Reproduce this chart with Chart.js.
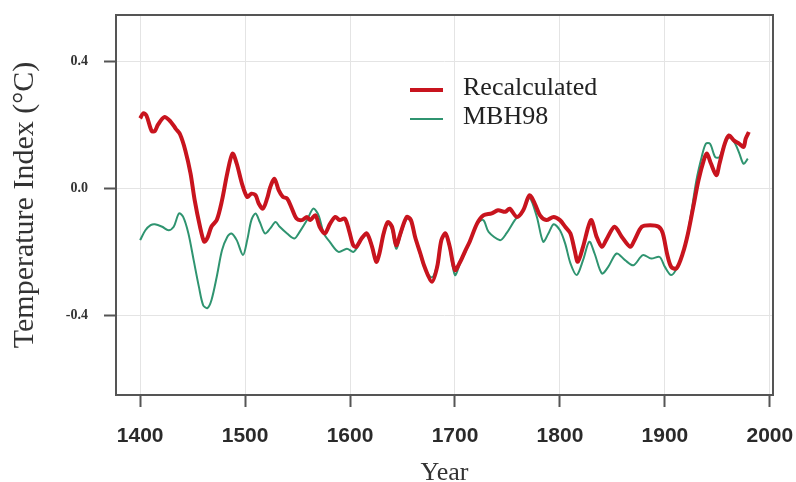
<!DOCTYPE html>
<html>
<head>
<meta charset="utf-8">
<title>Temperature Index</title>
<script src="https://cdn.jsdelivr.net/npm/chart.js@4.4.1/dist/chart.umd.min.js"></script>
<style>
  html, body { margin: 0; padding: 0; background: #fff; }
  #wrap { width: 796px; height: 482px; }
</style>
</head>
<body>
<div id="wrap"><canvas id="tempChart" width="796" height="482"></canvas></div>
<script>
// --- data ---
const xTicks = [1400, 1500, 1600, 1700, 1800, 1900, 2000];
const yTicks = [-0.4, 0.0, 0.4];

const recalcYears = [1400,1403,1406,1411,1414,1417,1423,1429,1434,1438,1443,1448,1452,1457,1461,1464,1468,1473,1478,1483,
  1488,1492,1497,1502,1506,1510,1513,1517,1521,1524,1528,1532,1536,1540,1544,1549,1554,1559,1562,1567,
  1571,1576,1581,1586,1590,1595,1599,1603,1606,1611,1616,1621,1625,1628,1632,1636,1640,1644,1648,1654,
  1658,1662,1667,1671,1678,1683,1687,1691,1695,1700,1705,1710,1714,1721,1727,1735,1741,1748,1752,1759,
  1765,1771,1776,1781,1787,1794,1800,1805,1810,1814,1817,1822,1827,1830,1835,1840,1844,1852,1859,1867,
  1871,1878,1886,1894,1898,1902,1906,1911,1917,1922,1927,1932,1937,1940,1944,1949,1952,1957,1961,1966,
  1971,1975,1977,1980];
const recalcValues = [0.22,0.236,0.229,0.18,0.18,0.20,0.224,0.21,0.187,0.17,0.12,0.047,-0.038,-0.12,-0.168,-0.157,-0.12,-0.10,-0.038,0.047,
  0.109,0.078,0.015,-0.027,-0.017,-0.022,-0.048,-0.064,-0.032,0.004,0.03,-0.006,-0.027,-0.032,-0.059,-0.095,-0.10,-0.09,-0.10,-0.085,
  -0.121,-0.142,-0.111,-0.09,-0.10,-0.095,-0.132,-0.179,-0.184,-0.158,-0.142,-0.184,-0.231,-0.205,-0.142,-0.106,-0.121,-0.179,-0.142,-0.09,
  -0.10,-0.153,-0.205,-0.247,-0.294,-0.247,-0.163,-0.142,-0.184,-0.257,-0.231,-0.195,-0.168,-0.111,-0.085,-0.079,-0.069,-0.074,-0.064,-0.09,
  -0.069,-0.022,-0.048,-0.085,-0.10,-0.09,-0.10,-0.121,-0.142,-0.195,-0.231,-0.184,-0.121,-0.10,-0.153,-0.184,-0.163,-0.121,-0.153,-0.184,
  -0.163,-0.121,-0.116,-0.121,-0.142,-0.205,-0.247,-0.252,-0.205,-0.142,-0.059,0.025,0.088,0.109,0.077,0.041,0.077,0.14,0.166,0.15,
  0.14,0.13,0.156,0.177];

const mbhYears = [1400,1405,1410,1414,1421,1427,1432,1437,1441,1446,1451,1456,1460,1464,1468,1473,1478,1483,1487,1492,
  1498,1502,1506,1510,1514,1519,1524,1529,1533,1540,1547,1552,1559,1565,1570,1575,1581,1589,1597,1603,
  1606,1611,1616,1621,1625,1628,1632,1636,1640,1644,1648,1654,1658,1662,1667,1671,1678,1683,1687,1691,
  1695,1700,1705,1710,1714,1721,1727,1732,1743,1749,1757,1765,1771,1778,1784,1789,1794,1800,1805,1810,
  1816,1822,1828,1833,1840,1846,1854,1862,1870,1879,1887,1895,1900,1906,1912,1919,1924,1930,1935,1939,
  1943,1948,1952,1957,1962,1967,1971,1975,1979];
const mbhValues = [-0.163,-0.132,-0.116,-0.113,-0.121,-0.132,-0.121,-0.079,-0.09,-0.142,-0.226,-0.31,-0.367,-0.377,-0.351,-0.278,-0.195,-0.153,-0.142,-0.163,
  -0.21,-0.163,-0.10,-0.079,-0.106,-0.142,-0.126,-0.106,-0.121,-0.142,-0.158,-0.137,-0.10,-0.064,-0.085,-0.142,-0.17,-0.20,-0.19,-0.20,
  -0.19,-0.16,-0.14,-0.18,-0.225,-0.20,-0.14,-0.11,-0.13,-0.19,-0.15,-0.095,-0.105,-0.155,-0.21,-0.25,-0.28,-0.24,-0.16,-0.145,
  -0.19,-0.273,-0.235,-0.20,-0.17,-0.111,-0.10,-0.137,-0.163,-0.142,-0.10,-0.069,-0.03,-0.09,-0.168,-0.142,-0.113,-0.132,-0.174,-0.236,
  -0.273,-0.226,-0.168,-0.205,-0.268,-0.247,-0.205,-0.226,-0.242,-0.21,-0.221,-0.216,-0.247,-0.273,-0.247,-0.184,-0.10,0.025,0.098,0.14,
  0.14,0.098,0.098,0.14,0.161,0.14,0.109,0.077,0.093];

const toPoints = (xs, ys) => xs.map((x, i) => ({ x: x, y: ys[i] }));

// box round the plot area, drawn over the lines like the R frame
const frameBox = {
  id: 'frameBox',
  afterDatasetsDraw(chart) {
    const { ctx, chartArea: a } = chart;
    ctx.save();
    ctx.strokeStyle = '#555';
    ctx.lineWidth = 2;
    ctx.strokeRect(a.left, a.top, a.right - a.left, a.bottom - a.top);
    ctx.restore();
  }
};

// legend inside the plot, no frame
const insideLegend = {
  id: 'insideLegend',
  afterDraw(chart) {
    const ctx = chart.ctx;
    ctx.save();
    ctx.font = '26px "Liberation Serif", serif';
    ctx.textBaseline = 'middle';
    chart.data.datasets.forEach((ds, i) => {
      const y = 88 + i * 29;
      ctx.strokeStyle = ds.borderColor;
      ctx.lineWidth = ds.borderWidth;
      ctx.beginPath();
      ctx.moveTo(410, y + 2);
      ctx.lineTo(443, y + 2);
      ctx.stroke();
      ctx.fillStyle = '#222';
      ctx.fillText(ds.label, 463, y);
    });
    ctx.restore();
  }
};

new Chart(document.getElementById('tempChart'), {
  type: 'line',
  data: {
    datasets: [
      {
        label: 'Recalculated',
        data: toPoints(recalcYears, recalcValues),
        borderColor: '#c8141e',
        borderWidth: 4,
        pointRadius: 0,
        tension: 0.3,
        fill: false
      },
      {
        label: 'MBH98',
        data: toPoints(mbhYears, mbhValues),
        borderColor: '#2f9470',
        borderWidth: 2,
        pointRadius: 0,
        tension: 0.3,
        fill: false
      }
    ]
  },
  options: {
    responsive: false,
    animation: false,
    layout: { padding: { top: 15, right: 23, left: 0, bottom: 0 } },
    plugins: {
      legend: { display: false },
      tooltip: { enabled: false }
    },
    scales: {
      x: {
        type: 'linear',
        min: 1377,
        max: 2003,
        afterFit: s => { s.height = 87; s.paddingLeft = 0; s.paddingRight = 0; },
        afterBuildTicks: s => { s.ticks = xTicks.map(v => ({ value: v })); },
        grid: { color: '#e4e4e4', lineWidth: 1, tickColor: '#555', tickLength: 12, tickWidth: 2 },
        border: { display: false },
        ticks: {
          color: '#2a2a2a',
          font: { family: '"Liberation Sans", Arial, sans-serif', size: 21, weight: 'bold' },
          padding: 17,
          maxRotation: 0,
          callback: v => String(v)
        },
        title: {
          display: true,
          text: 'Year',
          color: '#333',
          font: { family: '"Liberation Serif", serif', size: 26, lineHeight: 0.7 },
          padding: { top: 0, bottom: 0 }
        }
      },
      y: {
        min: -0.65,
        max: 0.545,
        afterFit: s => { s.width = 116; s.paddingTop = 0; s.paddingBottom = 0; },
        afterBuildTicks: s => { s.ticks = yTicks.map(v => ({ value: v })); },
        grid: { color: '#e4e4e4', lineWidth: 1, tickColor: '#555', tickLength: 12, tickWidth: 2 },
        border: { display: false },
        ticks: {
          color: '#333',
          font: { family: '"Liberation Serif", serif', size: 14, weight: 'bold' },
          padding: 16,
          callback: v => v.toFixed(1)
        },
        title: {
          display: true,
          text: 'Temperature Index (°C)',
          color: '#333',
          font: { family: '"Liberation Serif", serif', size: 30, lineHeight: 1 },
          padding: { top: 10, bottom: 0 }
        }
      }
    }
  },
  plugins: [frameBox, insideLegend]
});
</script>
</body>
</html>
